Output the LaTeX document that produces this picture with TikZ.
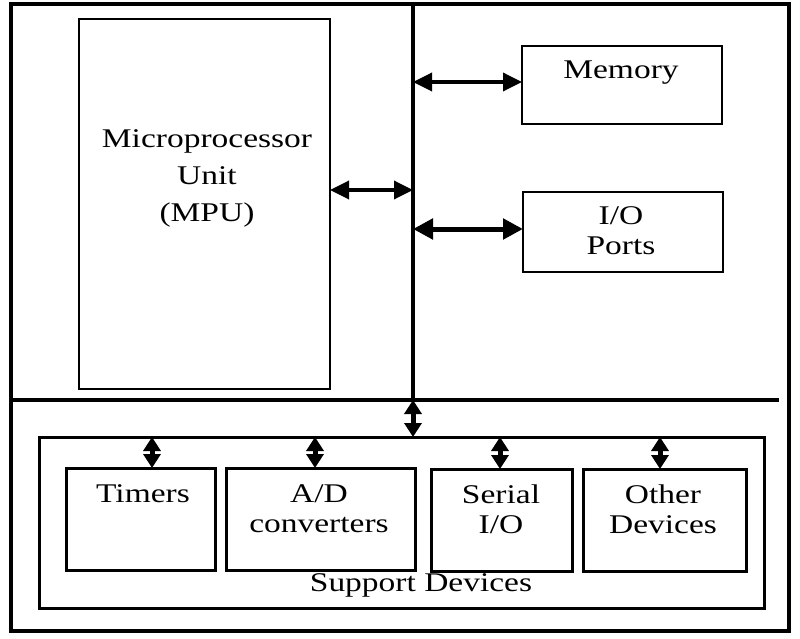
\documentclass[tikz,border=0pt]{standalone}
\usepackage{fontspec}
\setmainfont{Liberation Serif}[FakeStretch=1.24]
\usetikzlibrary{arrows.meta,calc}
\begin{document}
\begin{tikzpicture}[x=1pt,y=-1pt,
  box/.style={draw,line width=3pt,inner sep=0pt,outer sep=0pt,anchor=north west},
  txt/.style={font=\fontsize{27}{30}\selectfont,align=center,inner sep=0pt},
  harr/.style={line width=3.5pt,{Triangle[length=19pt,width=18pt]}-{Triangle[length=19pt,width=18pt]}},
  harrb/.style={line width=5pt,{Triangle[length=20pt,width=20pt]}-{Triangle[length=20pt,width=20pt]}},
  varr/.style={line width=5pt,{Triangle[length=14pt,width=17pt]}-{Triangle[length=14pt,width=17pt]}},
  bus/.style={line width=3.5pt}
]
\useasboundingbox (0,0) rectangle (800,639);
% outer frame
\node[box,line width=3.5pt,minimum width=778pt,minimum height=627pt] (frame) at (11,4) {};
% MPU
\node[box,line width=2.6pt,minimum width=251pt,minimum height=370pt] (mpu) at (79,19) {};
\node[txt,font=\fontsize{27}{37}\selectfont] (mputxt) at (207,178) {Microprocessor\\Unit\\(MPU)};
% Memory and I/O
\node[box,line width=2.6pt,minimum width=200pt,minimum height=78pt] (mem) at (522,46) {};
\node[txt] (memtxt) at (621,73) {Memory};
\node[box,line width=2.6pt,minimum width=200pt,minimum height=80pt] (io) at (523,192) {};
\node[txt] (iotxt) at (621,231) {I/O\\Ports};
% bus
\coordinate (btop) at (413,4);
\coordinate (bjoin) at (413,400);
\coordinate (hleft) at (11,400);
\coordinate (hright) at (779,400);
\draw[bus] (btop) -- (bjoin);
\draw[bus] (hleft) -- (hright);
\coordinate (bmem) at (413,82);
\coordinate (bmpu) at (413,190);
\coordinate (bio) at (413,229);
\draw[harr] (bmem) -- (mem.west |- bmem);
\draw[harr] (mpu.east |- bmpu) -- (bmpu);
\draw[harrb] (bio) -- (io.west |- bio);
% support devices
\node[box,minimum width=725pt,minimum height=171pt] (sup) at (39,437) {};
\node[txt] (suptxt) at (421,585) {Support Devices};
\draw[varr] (bjoin) -- (sup.north -| bjoin);
\node[box,minimum width=149pt,minimum height=102pt] (tim) at (66,468) {};
\node[box,minimum width=189pt,minimum height=102pt] (ad) at (226,468) {};
\node[box,minimum width=141pt,minimum height=102pt] (ser) at (431,469) {};
\node[box,minimum width=163pt,minimum height=102pt] (oth) at (583,469) {};
\node[txt] (timtxt) at (143,494) {Timers};
\node[txt] (adtxt) at (319,509) {A/D\\converters};
\node[txt] (sertxt) at (501,509) {Serial\\I/O};
\node[txt] (othtxt) at (663,509) {Other\\Devices};
\coordinate (stim) at (152,437);
\coordinate (sad) at (315,437);
\coordinate (sser) at (500,437);
\coordinate (soth) at (660,437);
\draw[varr] (stim) -- (tim.north -| stim);
\draw[varr] (sad) -- (ad.north -| sad);
\draw[varr] (sser) -- (ser.north -| sser);
\draw[varr] (soth) -- (oth.north -| soth);
\end{tikzpicture}
\end{document}
